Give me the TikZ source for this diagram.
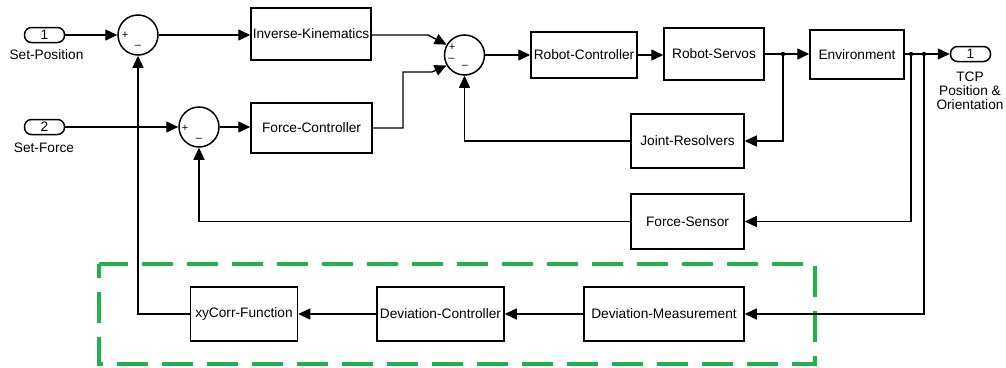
\documentclass[tikz,border=0pt]{standalone}
\usepackage{fontspec}
\setmainfont{Liberation Sans}
\usetikzlibrary{arrows.meta,calc}
\definecolor{dashgreen}{RGB}{34,177,76}
\begin{document}
\begin{tikzpicture}[x=1pt,y=-1pt,
  font=\fontsize{13.7}{15}\selectfont,
  blk/.style={draw,line width=1.5pt,inner sep=0pt,align=center},
  port/.style={draw,line width=1.5pt,rounded corners=7pt,minimum width=40pt,minimum height=15pt,inner sep=0pt},
  sumb/.style={draw,circle,line width=1.5pt,minimum size=40pt,inner sep=0pt},
  sig/.style={line width=1.4pt,-{Triangle[length=12pt,width=11pt]}},
  wire/.style={line width=1.4pt},
  sgn/.style={font=\fontsize{11}{11}\selectfont,inner sep=0pt},
  dot/.style={circle,fill,inner sep=0pt,minimum size=4.5pt},
  lbl/.style={inner sep=0pt,align=center,font=\fontsize{13.7}{14}\selectfont}
]
\useasboundingbox (0,0) rectangle (1006,367);
\fill[white] (0,0) rectangle (1006,367);

% inputs
\node[port] (in1) at (44.5,35) {1};
\node[lbl] (in1l) at (46.5,55) {Set-Position};
\node[port] (in2) at (44.5,127) {2};
\node[lbl] (in2l) at (44,148) {Set-Force};

% sums
\node[sumb] (s1) at (138,35) {};
\node[sgn] (s1p) at ($(s1)+(-13,0)$) {+};
\node[sgn] (s1m) at ($(s1)+(0,12)$) {–};
\node[sumb] (s2) at (199,127) {};
\node[sgn] (s2p) at ($(s2)+(-14,1)$) {+};
\node[sgn] (s2m) at ($(s2)+(0,13)$) {–};
\node[sumb] (s3) at (464.5,55) {};
\node[sgn] (s3p) at ($(s3)+(-12.5,-7.5)$) {+};
\node[sgn] (s3m1) at ($(s3)+(-13,5)$) {–};
\node[sgn] (s3m2) at ($(s3)+(0.5,12)$) {–};

% blocks
\node[blk,minimum width=120pt,minimum height=52pt] (ik) at (311,34) {Inverse-Kinematics};
\node[blk,minimum width=121pt,minimum height=50pt] (fc) at (311.5,128) {Force-Controller};
\node[blk,minimum width=106pt,minimum height=46pt] (rc) at (584,55) {Robot-Controller};
\node[blk,minimum width=100pt,minimum height=52pt] (rs) at (714,54) {Robot-Servos};
\node[blk,minimum width=94pt,minimum height=49pt] (env) at (857,54.5) {Environment};
\node[port] (out1) at (970.5,54) {1};
\node[lbl] (out1l) at (970,91) {TCP\\Position \&\\Orientation};
\node[blk,minimum width=113pt,minimum height=54pt] (jr) at (687.5,141) {Joint-Resolvers};
\node[blk,minimum width=113pt,minimum height=55pt] (fs) at (687.5,221.5) {Force-Sensor};
\node[blk,minimum width=160pt,minimum height=54pt] (dm) at (664,314) {Deviation-Measurement};
\node[blk,minimum width=127pt,minimum height=54pt] (dc) at (440.5,314) {Deviation-Controller};
\node[blk,minimum width=107pt,minimum height=54pt] (xy) at (244,314) {xyCorr-Function};

% dashed group
\draw[dashgreen,line width=3.5pt,dash pattern=on 31pt off 14pt,dash phase=17pt]
  (99,264) rectangle (815,364);

% branch points
\node[dot] (b1) at (783,54) {};
\node[dot] (b2) at (911,54) {};
\node[dot] (b3) at (924,54) {};
\coordinate (k1) at (428,35);
\coordinate (k2) at (403,72);
\coordinate (k3) at (432,72);

% connectors
\draw[sig] (in1.east) -- (s1.west);
\draw[sig] (s1.east) -- (ik.west |- s1.east);
\draw[sig] (in2.east) -- (s2.west);
\draw[sig] (s2.east) -- (fc.west |- s2.east);
\draw[sig] (ik.east |- k1) -- (k1) -- (s3.150);
\draw[sig] (fc.east) -| (k2) -- (k3) -- (s3.210);
\draw[sig] (s3.east) -- (rc.west);
\draw[sig] (rc.east) -- (rs.west |- rc.east);
\draw[wire] (rs.east |- b1) -- (b1);
\draw[sig] (b1) -- (env.west |- b1);
\draw[sig] (b1) |- (jr.east);
\draw[sig] (jr.west) -| (s3.south);
\draw[wire] (env.east |- b2) -- (b2) -- (b3);
\draw[sig] (b3) -- (out1.west);
\draw[sig] (b2) |- (fs.east);
\draw[sig] (b3) |- (dm.east);
\draw[sig] (fs.west) -| (s2.south);
\draw[sig] (dm.west) -- (dc.east);
\draw[sig] (dc.west) -- (xy.east);
\draw[sig] (xy.west) -| (s1.south);
\end{tikzpicture}
\end{document}
